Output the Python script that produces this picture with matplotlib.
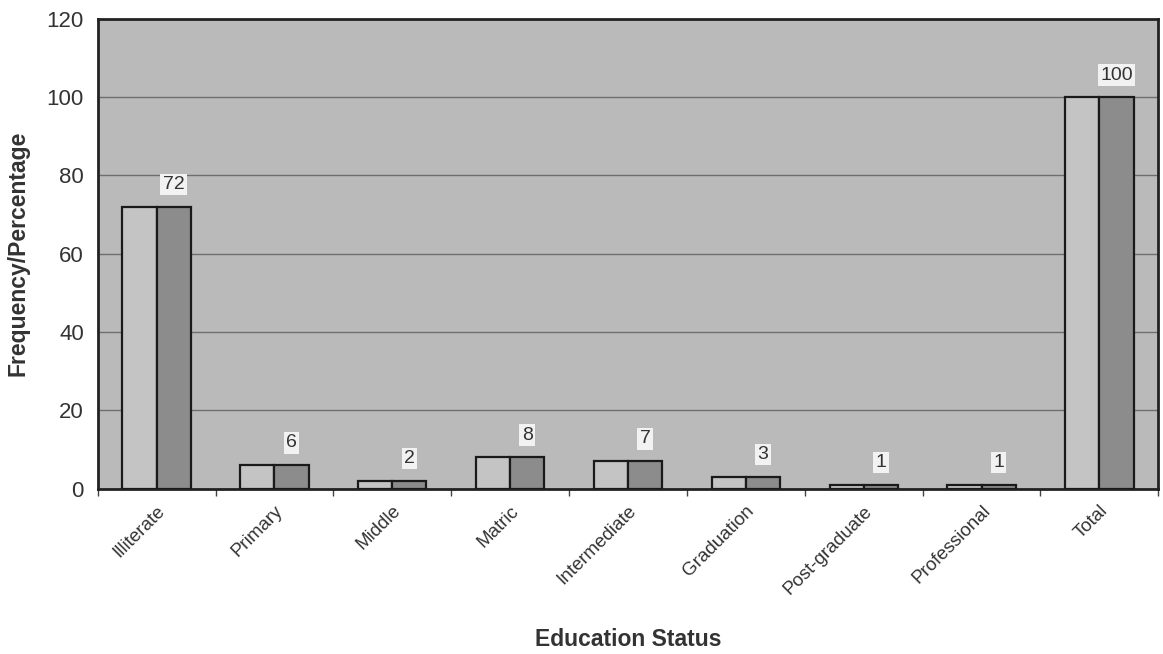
import numpy as np
import matplotlib
matplotlib.use("Agg")
import matplotlib.pyplot as plt

plt.rcParams['font.family'] = ['Liberation Sans', 'DejaVu Sans']

categories  = ["Illiterate", "Primary", "Middle", "Matric", "Intermediate",
               "Graduation", "Post-graduate", "Professional", "Total"]
frequency   = [72, 6, 2, 8, 7, 3, 1, 1, 100]
percentage  = [72, 6, 2, 8, 7, 3, 1, 1, 100]
y_ticks     = [0, 20, 40, 60, 80, 100, 120]

BAR_W = 0.29
TXT = "#333333"

fig = plt.figure(figsize=(11.63, 6.54), dpi=100)
ax = fig.add_axes([0.084, 0.253, 0.912, 0.718])

x = np.arange(len(categories))
ax.set_facecolor("#bababa")
ax.bar(x - BAR_W / 2, frequency, BAR_W, color="#c4c4c4", edgecolor="#1a1a1a",
       linewidth=1.6, zorder=3)
ax.bar(x + BAR_W / 2, percentage, BAR_W, color="#8c8c8c", edgecolor="#1a1a1a",
       linewidth=1.6, zorder=3)

# value labels sit over the right-hand bar of each pair
for xi, v in zip(x, percentage):
    ax.text(xi + BAR_W / 2, v + 3.5, str(v), ha="center", va="bottom",
            fontsize=14, color=TXT, zorder=4,
            bbox=dict(boxstyle="square,pad=0.12", facecolor="#f2f2f2",
                      edgecolor="none"))

ax.set_xlim(-0.5, len(categories) - 0.5)
ax.set_ylim(0, 120)
ax.set_yticks(y_ticks)

# category names centred on the pairs, small ticks between the groups
ax.set_xticks(x, labels=categories, rotation=45, ha="right",
              rotation_mode="anchor", fontsize=13.5, color=TXT)
ax.set_xticks(np.arange(len(categories) + 1) - 0.5, minor=True)
ax.tick_params(axis="x", which="major", length=0, pad=10)
ax.tick_params(axis="x", which="minor", length=5, width=1.0, color="#444444")
ax.tick_params(axis="y", labelsize=16, labelcolor=TXT, length=0, pad=10)

ax.yaxis.grid(True, color="#6e6e6e", linewidth=1.0, zorder=1)
ax.set_axisbelow(True)
for s in ax.spines.values():
    s.set_color("#222222")
    s.set_linewidth(2.0)

ax.set_ylabel("Frequency/Percentage", fontsize=16.5, fontweight="bold",
              color=TXT, labelpad=12)
ax.set_xlabel("Education Status", fontsize=16.5, fontweight="bold",
              color=TXT, labelpad=22)

fig.savefig("out.png", dpi=100)
